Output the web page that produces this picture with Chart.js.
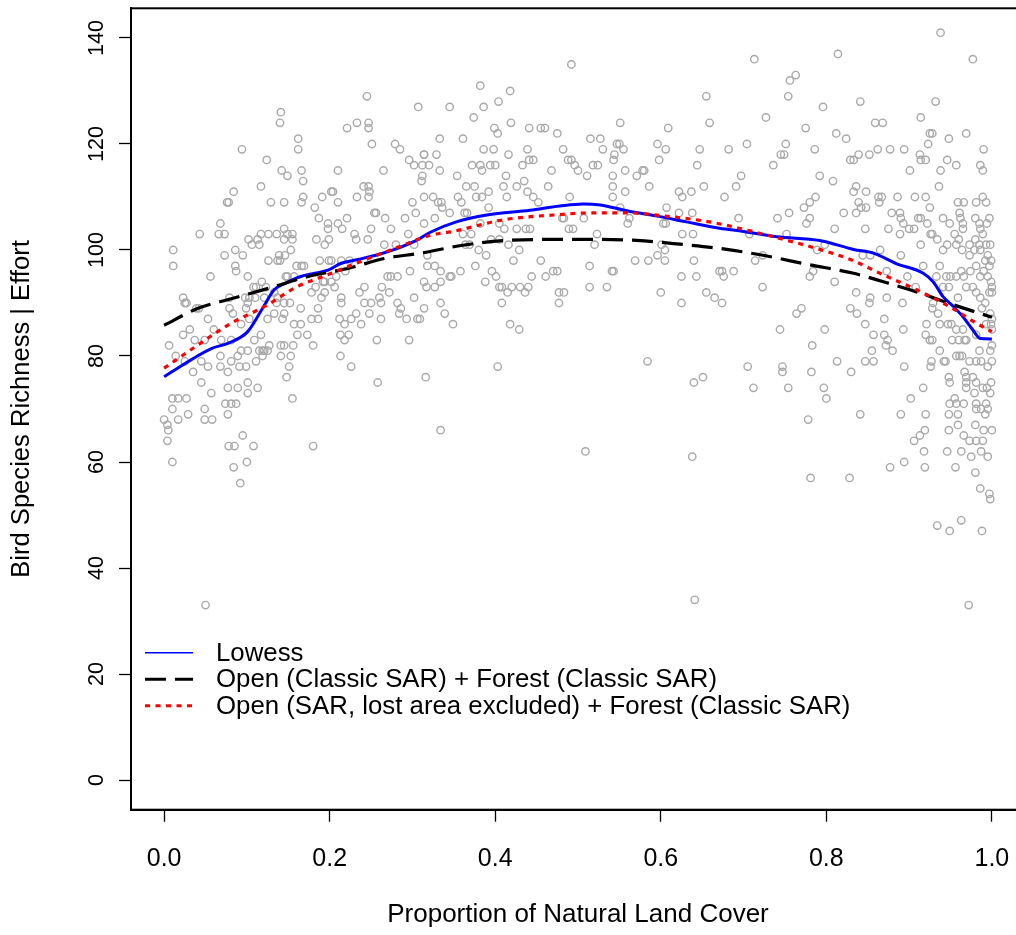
<!DOCTYPE html>
<html>
<head>
<meta charset="utf-8">
<script src="https://cdn.jsdelivr.net/npm/chart.js@4.4.1/dist/chart.umd.min.js"></script>
<style>
  html, body { margin: 0; padding: 0; background: #fff; overflow: hidden; }
  #wrap { position: absolute; left: 0; top: 0; width: 1040px; height: 935px; }
</style>
</head>
<body>
<div id="wrap"><canvas id="diagram"></canvas></div>
<script>
// tick labels
const xTicks = [0, 0.2, 0.4, 0.6, 0.8, 1.0];
const yTicks = [0, 20, 40, 60, 80, 100, 120, 140];

const seriesNames = [
    'Lowess',
    'Open (Classic SAR) + Forest (Classic SAR)',
    'Open (SAR, lost area excluded) + Forest (Classic SAR)'
];

// sites: proportion of natural land cover / bird species richness
const coverX = [
    0.245,0.307,0.141,0.140,0.221,0.233,0.247,0.247,0.162,0.162,
    0.094,0.251,0.279,0.285,0.124,0.314,0.296,0.302,0.312,0.320,
    0.142,0.149,0.166,0.168,0.210,0.265,0.311,0.117,0.084,0.241,
    0.247,0.248,0.247,0.202,0.204,0.168,0.191,0.233,0.314,0.076,
    0.078,0.129,0.145,0.166,0.210,0.300,0.182,0.254,0.256,0.187,
    0.198,0.210,0.221,0.267,0.291,0.304,0.314,0.068,0.043,0.066,
    0.073,0.117,0.126,0.136,0.145,0.149,0.155,0.102,0.113,0.106,
    0.115,0.145,0.155,0.184,0.199,0.215,0.198,0.230,0.246,0.250,
    0.274,0.232,0.194,0.266,0.280,0.295,0.302,0.011,0.011,0.086,
    0.073,0.095,0.139,0.146,0.153,0.126,0.137,0.140,0.188,0.199,
    0.202,0.214,0.224,0.086,0.087,0.160,0.166,0.169,0.219,0.318,
    0.318,0.056,0.101,0.147,0.149,0.157,0.194,0.208,0.270,0.274,
    0.282,0.297,0.108,0.111,0.118,0.123,0.183,0.192,0.202,0.206,
    0.242,0.263,0.314,0.317,0.023,0.025,0.027,0.039,0.042,0.079,
    0.098,0.101,0.103,0.110,0.121,0.133,0.137,0.145,0.152,0.178,
    0.190,0.194,0.214,0.214,0.236,0.242,0.250,0.260,0.272,0.282,
    0.286,0.302,0.314,0.079,0.099,0.136,0.165,0.186,0.262,0.053,
    0.083,0.093,0.103,0.125,0.133,0.143,0.145,0.157,0.165,0.178,
    0.186,0.212,0.218,0.226,0.232,0.238,0.248,0.262,0.284,0.293,
    0.306,0.006,0.023,0.031,0.037,0.049,0.060,0.069,0.081,0.093,
    0.101,0.109,0.117,0.119,0.127,0.141,0.145,0.156,0.161,0.173,
    0.180,0.213,0.218,0.223,0.257,0.296,0.014,0.025,0.035,0.045,
    0.053,0.045,0.068,0.068,0.077,0.081,0.089,0.091,0.099,0.101,
    0.111,0.115,0.121,0.119,0.125,0.141,0.153,0.151,0.148,0.155,
    0.213,0.226,0.258,0.316,0.077,0.089,0.101,0.113,0.057,0.010,
    0.017,0.027,0.010,0.049,0.074,0.081,0.087,0.077,0.000,0.004,
    0.005,0.017,0.029,0.049,0.058,0.004,0.010,0.095,0.078,0.085,
    0.108,0.180,0.084,0.100,0.092,0.050,
    0.492,0.382,0.418,0.345,0.386,0.404,0.374,0.419,0.399,0.403,
    0.441,0.455,0.460,0.475,0.551,0.609,0.655,0.659,0.333,0.361,
    0.515,0.527,0.386,0.398,0.439,0.482,0.530,0.547,0.550,0.555,
    0.596,0.606,0.647,0.314,0.329,0.416,0.441,0.446,0.488,0.492,
    0.544,0.543,0.598,0.333,0.372,0.382,0.394,0.400,0.384,0.433,
    0.468,0.496,0.500,0.518,0.524,0.557,0.580,0.644,0.312,0.354,
    0.413,0.511,0.542,0.571,0.578,0.365,0.375,0.410,0.426,0.435,
    0.464,0.542,0.586,0.652,0.325,0.331,0.335,0.336,0.355,0.359,
    0.377,0.384,0.392,0.414,0.439,0.446,0.452,0.490,0.542,0.557,
    0.551,0.622,0.626,0.637,0.345,0.363,0.366,0.392,0.607,0.622,
    0.638,0.327,0.382,0.405,0.481,0.483,0.507,0.562,0.560,0.603,
    0.606,0.361,0.371,0.411,0.426,0.437,0.442,0.489,0.494,0.523,
    0.626,0.639,0.364,0.369,0.395,0.405,0.416,0.429,0.380,0.389,
    0.422,0.455,0.520,0.601,0.605,0.596,0.605,0.640,0.569,0.585,
    0.327,0.334,0.345,0.347,0.358,0.376,0.396,0.401,0.444,0.461,
    0.470,0.475,0.514,0.541,0.543,0.625,0.643,0.671,0.327,0.334,
    0.388,0.405,0.408,0.415,0.420,0.430,0.440,0.436,0.477,0.483,
    0.514,0.535,0.600,0.655,0.665,0.334,0.408,0.477,0.625,
    0.339,0.349,0.309,0.418,0.429,0.403,0.584,0.640,0.651,0.334,
    0.509,0.638,0.641,
    0.938,0.713,0.814,0.977,0.756,0.763,0.754,0.841,0.796,0.932,
    0.727,0.914,0.775,0.812,0.824,0.859,0.868,0.925,0.928,0.948,
    0.969,0.682,0.704,0.745,0.749,0.751,0.786,0.829,0.833,0.839,
    0.852,0.862,0.877,0.894,0.913,0.914,0.920,0.923,0.946,0.957,
    0.990,0.986,0.989,0.736,0.901,0.938,0.936,0.697,0.691,0.792,
    0.808,0.677,0.836,0.833,0.848,0.787,0.780,0.773,0.839,0.848,
    0.842,0.863,0.867,0.864,0.886,0.907,0.920,0.925,0.959,0.966,
    0.981,0.989,0.993,0.694,0.741,0.755,0.776,0.780,0.821,0.836,
    0.879,0.889,0.890,0.893,0.900,0.906,0.911,0.914,0.922,0.941,
    0.949,0.961,0.962,0.965,0.980,0.985,0.994,0.997,0.965,0.986,
    0.707,0.752,0.810,0.847,0.875,0.889,0.926,0.928,0.934,0.955,
    0.960,0.973,0.980,0.985,0.989,0.993,0.998,0.789,0.798,0.865,
    0.914,0.941,0.946,0.957,0.964,0.973,0.979,0.986,0.995,0.999,
    0.992,0.997,0.674,0.676,0.688,0.714,0.723,0.780,0.784,0.844,
    0.853,0.873,0.890,0.898,0.917,0.933,0.937,0.945,0.950,0.957,
    0.963,0.966,0.974,0.981,0.986,0.990,0.995,0.999,1.000,0.723,
    0.810,0.836,0.853,0.873,0.892,0.941,0.948,0.959,0.969,0.977,
    0.981,0.986,0.992,0.997,1.000,0.674,0.770,0.829,0.852,0.908,
    0.929,
    0.764,0.837,0.928,0.935,0.937,0.947,0.951,0.957,0.965,0.969,
    0.981,0.988,0.998,1.000,0.999,0.993,1.000,0.744,0.798,0.847,
    0.857,0.870,0.870,0.874,0.880,0.893,0.855,0.872,0.783,0.921,
    0.920,0.925,0.928,0.937,0.952,0.960,0.967,0.985,0.998,1.000,
    0.705,0.747,0.747,0.782,0.813,0.830,0.847,0.857,0.894,0.927,
    0.926,0.942,0.944,0.957,0.961,0.964,0.973,0.981,0.987,0.995,
    1.000,0.712,0.754,0.797,0.800,0.778,0.841,0.890,0.902,0.917,
    0.920,0.948,0.949,0.948,0.955,0.949,0.957,0.959,0.966,0.967,
    0.969,0.969,0.969,0.977,0.981,0.979,0.981,0.981,0.987,0.993,
    0.995,0.998,0.999,0.989,0.994,0.992,0.906,0.913,0.919,0.948,
    0.959,0.966,0.973,0.981,0.989,0.980,0.990,1.000,0.918,0.946,
    0.963,0.975,0.987,0.995,0.877,0.894,0.919,0.956,0.980,0.986,
    0.997,0.998,0.781,0.828,0.934,0.949,0.963,0.988,0.972
];

const richness = [
    129,127,126,124,123,124,124,123,121,119,
    119,120,120,119,117,118,117,116,116,116,
    115,114,115,113,115,115,113,112,111,112,
    112,111,110,111,111,110,110,110,110,109,
    109,109,109,109,109,109,108,107,107,106,
    105,105,106,106,106,107,105,105,103,103,
    103,103,103,103,104,103,103,102,102,101,
    101,102,102,102,102,104,104,103,102,104,
    104,102,101,101,101,103,101,100,97,100,
    99,99,99,99,100,98,98,98,98,98,
    98,98,98,97,96,97,97,97,96,99,
    97,95,95,95,95,95,94,95,95,95,
    95,96,93,93,94,93,93,94,94,93,
    93,93,94,93,91,90,90,89,89,91,
    91,90,91,91,91,92,91,90,90,92,
    91,92,91,90,92,90,90,91,92,90,
    89,91,89,89,89,90,89,89,90,87,
    88,86,87,87,88,87,88,86,86,87,
    87,87,86,87,88,86,88,87,88,87,
    87,82,84,85,83,83,85,83,83,81,
    81,83,84,81,82,82,82,82,84,84,
    82,84,83,84,83,83,80,79,77,79,
    78,75,80,78,77,79,80,78,78,75,
    79,81,81,80,81,80,80,78,76,72,
    80,78,75,76,74,74,73,74,73,72,
    72,72,70,70,71,71,71,69,68,67,
    66,68,69,68,68,64,60,65,63,63,
    63,63,59,60,56,33,
    135,131,130,127,127,128,125,124,123,122,
    123,123,123,122,124,123,129,124,121,121,
    121,121,119,119,119,119,119,120,120,119,
    120,119,119,118,118,118,117,117,117,117,
    118,117,117,115,116,116,116,116,115,116,
    115,116,115,116,116,115,115,116,114,114,
    114,114,114,114,115,112,112,112,112,113,
    112,112,112,112,110,109,109,108,110,109,
    110,110,111,110,111,110,109,110,110,111,
    108,111,110,111,107,107,107,108,108,107,
    107,106,105,105,106,106,106,106,105,105,
    105,103,103,104,104,104,104,104,104,103,
    103,103,101,101,102,102,101,100,100,99,
    98,98,101,101,100,99,98,98,98,98,
    97,96,95,95,96,97,96,95,95,95,
    96,96,97,96,96,95,95,96,93,94,
    94,93,93,92,93,93,93,92,92,92,
    93,93,92,92,91,90,90,90,90,
    88,86,87,86,85,78,79,75,76,66,
    62,61,34,
    141,136,137,136,132,133,129,128,127,128,
    125,125,123,122,121,124,124,122,122,121,
    122,119,120,118,118,120,119,117,117,118,
    118,119,119,119,118,117,117,120,117,116,
    119,116,115,116,115,115,112,114,112,114,
    113,110,112,111,111,110,109,108,109,108,
    108,110,110,109,110,110,110,108,109,109,
    109,110,109,106,106,107,105,106,107,107,
    107,107,106,105,104,104,106,106,105,106,
    105,107,106,105,106,105,105,106,104,104,
    103,103,104,104,104,103,103,103,102,103,
    102,101,102,101,103,101,101,100,101,100,
    101,100,101,101,100,99,100,100,99,98,
    98,97,96,95,96,98,99,95,96,99,
    99,96,99,95,97,95,97,95,95,95,
    96,95,96,97,95,96,95,94,93,93,
    94,92,91,91,90,93,93,91,93,93,
    92,91,90,92,92,90,89,89,90,93,
    90,
    88,88,89,88,86,86,86,85,85,83,
    84,89,88,87,86,86,85,85,85,86,
    84,87,84,83,81,85,81,82,82,86,
    84,83,83,81,83,83,83,81,81,82,
    78,78,77,77,79,77,79,79,78,79,
    78,79,79,80,80,80,79,79,79,78,
    79,74,74,74,72,68,69,69,72,74,
    69,76,75,69,72,71,71,69,71,77,
    76,75,74,76,75,73,71,70,70,71,
    70,73,75,74,74,69,64,65,66,66,
    67,65,64,64,64,67,66,66,62,62,
    62,61,62,61,59,60,59,59,58,55,
    54,53,57,57,48,47,49,47,33
];

// fitted curves
const lowessX = [0, 0.057, 0.077, 0.101, 0.119, 0.133, 0.145, 0.165, 0.182, 0.198, 0.214, 0.234, 0.258, 0.282, 0.306, 0.321, 0.353, 0.390, 0.442, 0.478, 0.506, 0.527, 0.559, 0.599, 0.631, 0.671, 0.700, 0.740, 0.792, 0.833, 0.857, 0.885, 0.917, 0.929, 0.941, 0.953, 0.965, 0.977, 0.986, 1.0];
const lowessY = [76.1, 81.4, 82.4, 84.6, 89.0, 92.5, 93.6, 95.0, 95.6, 96.2, 97.5, 98.2, 99.1, 100.3, 101.9, 103.3, 105.3, 106.6, 107.5, 108.3, 108.7, 108.5, 107.4, 106.3, 105.3, 104.1, 103.5, 102.5, 101.8, 100.1, 99.4, 97.4, 95.6, 94.0, 91.2, 89.4, 87.4, 84.9, 83.3, 83.2];

const classicX = [0, 0.041, 0.081, 0.129, 0.174, 0.222, 0.266, 0.310, 0.361, 0.414, 0.478, 0.527, 0.571, 0.623, 0.671, 0.720, 0.780, 0.833, 0.869, 0.909, 0.949, 1.0];
const classicY = [85.8, 89.0, 90.8, 92.9, 95.0, 96.5, 98.4, 99.4, 100.9, 101.8, 102.0, 102.0, 101.8, 101.1, 100.3, 99.1, 97.2, 95.6, 94.0, 92.1, 89.9, 87.3];

const lostX = [0, 0.041, 0.081, 0.121, 0.161, 0.202, 0.242, 0.282, 0.322, 0.349, 0.410, 0.470, 0.518, 0.559, 0.611, 0.659, 0.708, 0.748, 0.788, 0.829, 0.869, 0.909, 0.949, 0.981, 1.0];
const lostY = [77.7, 82.1, 86.2, 89.3, 93.1, 95.6, 98.1, 100.5, 102.8, 103.5, 105.7, 106.6, 107.0, 107.0, 106.3, 105.3, 103.6, 102.0, 100.3, 98.2, 95.3, 92.5, 89.3, 86.2, 84.6];

const FONT = "'Liberation Sans', Arial, sans-serif";

function toPoints(xs, ys) {
    return xs.map((x, i) => ({ x: x, y: ys[i] }));
}

const lineStyles = [
    { color: '#0000ff', width: 3, dash: [], legendWidth: 1.5 },
    { color: '#000000', width: 3.2, dash: [21, 9], legendWidth: 3 },
    { color: '#ff0000', width: 3.2, dash: [5, 5.5], legendWidth: 3 }
];

// box around the plot + legend inside the plot
const boxAndLegend = {
    id: 'boxAndLegend',
    afterDraw(chart) {
        const ctx = chart.ctx;
        const a = chart.chartArea;
        ctx.save();
        ctx.strokeStyle = '#000';
        ctx.lineWidth = 2;
        ctx.setLineDash([]);
        ctx.strokeRect(a.left, a.top, a.right - a.left, a.bottom - a.top);

        ctx.font = '25.8px ' + FONT;
        ctx.textBaseline = 'middle';
        ctx.textAlign = 'left';
        seriesNames.forEach((name, i) => {
            const y = 652.7 + i * 26.5;
            const st = lineStyles[i];
            ctx.strokeStyle = st.color;
            ctx.lineWidth = st.legendWidth;
            ctx.setLineDash(st.dash);
            ctx.beginPath();
            ctx.moveTo(145, y);
            ctx.lineTo(193, y);
            ctx.stroke();
            ctx.fillStyle = '#000';
            ctx.fillText(name, 216, y + 1);
        });
        ctx.restore();
    }
};

function createChart() {
    const ctx = document.getElementById('diagram').getContext('2d');
    Chart.defaults.font.family = FONT;
    Chart.defaults.color = '#000';

    const curves = [[lowessX, lowessY], [classicX, classicY], [lostX, lostY]];

    new Chart(ctx, {
        type: 'scatter',
        data: {
            datasets: [
                {
                    label: 'Sites',
                    data: toPoints(coverX, richness),
                    pointRadius: 3.7,
                    pointBorderWidth: 1.4,
                    borderColor: '#a9a9a9',
                    backgroundColor: 'rgba(0,0,0,0)',
                    order: 10
                }
            ].concat(curves.map((c, i) => ({
                label: seriesNames[i],
                data: toPoints(c[0], c[1]),
                showLine: true,
                pointRadius: 0,
                borderColor: lineStyles[i].color,
                borderWidth: lineStyles[i].width,
                borderDash: lineStyles[i].dash,
                cubicInterpolationMode: 'monotone',
                fill: false,
                order: 3 - i
            })))
        },
        options: {
            responsive: true,
            maintainAspectRatio: false,
            animation: false,
            devicePixelRatio: 1,
            layout: { padding: { top: 8.3, right: 15, bottom: 0, left: 0 } },
            plugins: {
                legend: { display: false },
                tooltip: { enabled: false }
            },
            scales: {
                x: {
                    type: 'linear',
                    position: 'bottom',
                    min: -0.04,
                    max: 1.04,
                    afterBuildTicks: s => { s.ticks = xTicks.map(v => ({ value: v })); },
                    afterFit: s => { s.height = 125.3; s.paddingLeft = 0; s.paddingRight = 0; },
                    ticks: {
                        callback: v => Number(v).toFixed(1),
                        font: { size: 25 },
                        color: '#000',
                        padding: 22,
                        maxRotation: 0,
                        autoSkip: false
                    },
                    grid: { display: true, drawOnChartArea: false, drawTicks: true, tickLength: 12, tickColor: '#000', tickWidth: 1.3 },
                    border: { display: true, color: '#000', width: 2 },
                    title: {
                        display: true,
                        text: 'Proportion of Natural Land Cover',
                        font: { size: 26 },
                        color: '#000',
                        padding: { top: 0, bottom: 5 }
                    }
                },
                y: {
                    type: 'linear',
                    min: -5.6,
                    max: 145.6,
                    afterBuildTicks: s => { s.ticks = yTicks.map(v => ({ value: v })); },
                    afterFit: s => { s.width = 131; s.paddingTop = 0; s.paddingBottom = 0; },
                    ticks: {
                        font: { size: 21.5 },
                        color: '#000',
                        padding: 3.5,
                        minRotation: 90,
                        maxRotation: 90,
                        crossAlign: 'center',
                        autoSkip: false
                    },
                    grid: { display: true, drawOnChartArea: false, drawTicks: true, tickLength: 12, tickColor: '#000', tickWidth: 1.3 },
                    border: { display: true, color: '#000', width: 2 },
                    title: {
                        display: true,
                        text: 'Bird Species Richness | Effort',
                        font: { size: 25.6 },
                        color: '#000',
                        padding: { top: 7, bottom: 0 }
                    }
                }
            }
        },
        plugins: [boxAndLegend]
    });
}

window.onload = createChart;
</script>
</body>
</html>
